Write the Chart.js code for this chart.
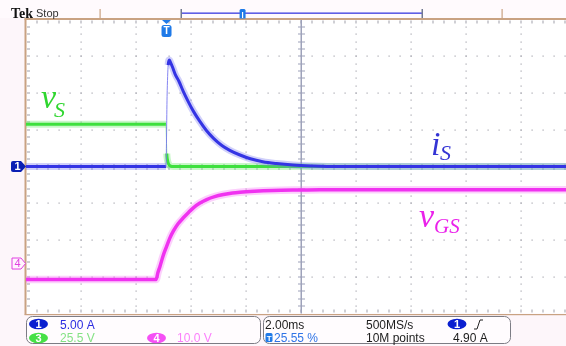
<!DOCTYPE html>
<html>
<head>
<meta charset="utf-8">
<script src="https://cdn.jsdelivr.net/npm/chart.js@4/dist/chart.umd.min.js"></script>
<style>
  html, body { margin: 0; padding: 0; overflow: hidden; width: 566px; height: 346px; background: #fdf6fa; }
  canvas { display: block; }
</style>
</head>
<body>
<canvas id="scope" width="576" height="346"></canvas>
<script>
// Acquisition settings (readout panel)
const timePerDiv = 2;        // ms/div
const triggerPct = 25.55;    // trigger position in the record, %
const ch1PerDiv = 5;         // A/div  (i_S)
const ch3PerDiv = 25.5;      // V/div  (v_S)
const ch4PerDiv = 10;        // V/div  (v_GS)
const ch4Offset = -2.64;     // div, ground position of channel 4

// Readout strings
const readoutCh = ['5.00 A', '25.5 V', '10.0 V'];
const readoutTime = ['2.00ms', '25.55 %'];
const readoutAcq = ['500MS/s', '10M points'];
const readoutTrig = ['4.90 A'];

// Trace names
const traceNames = [['i', 'S'], ['v', 'S'], ['v', 'GS']];

// Channel 1: switch current i_S (time in ms from trigger, value in A)
const timeIS = [-5.11, -0.02, 0.02, 0.06, 0.10, 0.14, 0.22, 0.32, 0.45, 0.60, 0.78, 0.98, 1.20, 1.45, 1.72, 2.00, 2.30, 2.65, 3.05, 3.50, 4.00, 4.60, 5.30, 6.20, 14.89];
const valIS  = [0, 0, 9.5, 13.8, 14.5, 14.2, 13.5, 12.5, 11.6, 10.3, 8.9, 7.5, 6.2, 4.9, 3.8, 2.9, 2.2, 1.6, 1.05, 0.65, 0.4, 0.2, 0.08, 0, 0];

// Channel 3: switch voltage v_S (V)
const timeVS = [-5.11, -0.02, 0.01, 0.03, 0.06, 0.10, 0.16, 0.25, 14.89];
const valVS  = [29.3, 29.3, 9.0, 5.0, 2.5, 1.0, 0.2, 0.0, 0.0];

// Channel 4: gate voltage v_GS (V)
const timeVGS = [-5.11, -0.38, -0.31, -0.236, -0.12, 0.007, 0.12, 0.247, 0.42, 0.611, 0.80, 0.975, 1.20, 1.46, 1.75, 2.07, 2.40, 2.67, 3.20, 3.87, 4.70, 5.58, 14.89];
const valVGS  = [-4.35, -4.35, -2.4, -0.73, 2.2, 4.71, 6.9, 8.79, 10.8, 12.44, 13.9, 15.16, 16.4, 17.41, 18.2, 18.78, 19.2, 19.4, 19.65, 19.86, 20.0, 20.1, 20.1];

const tLeft = -triggerPct / 100 * 10 * timePerDiv;
const tRight = tLeft + 10 * timePerDiv;

const pts = (ts, vs) => ts.map((t, i) => ({ x: t, y: vs[i] }));

// fast edges are drawn as a thin faint line, like a scope's sparse samples
const steep = ctx => {
  const dx = Math.abs(ctx.p1.x - ctx.p0.x), dy = Math.abs(ctx.p1.y - ctx.p0.y);
  return dy > 8 && dy > 6 * dx;
};

function trace(data, yAxisID, core, halo, width, order) {
  return [
    {
      data, yAxisID, order,
      borderColor: core, borderWidth: width,
      cubicInterpolationMode: 'monotone', pointRadius: 0,
      segment: {
        borderColor: c => steep(c) ? halo.replace(/[\d.]+\)$/, '0.9)') : undefined,
        borderWidth: c => steep(c) ? 1 : undefined
      }
    },
    {
      data, yAxisID, order: order + 0.5,
      borderColor: halo, borderWidth: width + 4,
      cubicInterpolationMode: 'monotone', pointRadius: 0,
      segment: {
        borderColor: c => steep(c) ? 'rgba(0,0,0,0)' : undefined
      }
    }
  ];
}

function roundRect(ctx, x, y, w, h, r) {
  ctx.beginPath();
  ctx.moveTo(x + r, y);
  ctx.arcTo(x + w, y, x + w, y + h, r);
  ctx.arcTo(x + w, y + h, x, y + h, r);
  ctx.arcTo(x, y + h, x, y, r);
  ctx.arcTo(x, y, x + w, y, r);
  ctx.closePath();
}

function badge(ctx, cx, cy, fill, txt, txtColor) {
  ctx.beginPath();
  ctx.ellipse(cx, cy, 9.5, 5.3, 0, 0, Math.PI * 2);
  ctx.fillStyle = fill;
  ctx.fill();
  ctx.fillStyle = txtColor || '#ffffff';
  ctx.font = 'bold 11px "Liberation Sans"';
  ctx.textAlign = 'center';
  ctx.textBaseline = 'middle';
  ctx.fillText(txt, cx, cy + 0.5);
  ctx.textAlign = 'left';
  ctx.textBaseline = 'alphabetic';
}

const scopeFrame = {
  id: 'scopeFrame',
  beforeDraw(chart) {
    const { ctx, chartArea: a, scales } = chart;
    const x = scales.x, y = scales.yI;
    const H = a.bottom - a.top;
    ctx.save();
    ctx.fillStyle = '#fdf6fa';
    ctx.fillRect(0, 0, chart.width, chart.height);
    ctx.fillStyle = '#ffffff';
    ctx.fillRect(a.left, a.top, a.right - a.left, H);

    const divW = x.getPixelForValue(tLeft + timePerDiv) - x.getPixelForValue(tLeft);
    // dotted graticule
    ctx.fillStyle = '#a6a6ae';
    for (let k = 1; k < 10; k++) {
      if (k === 5) continue;
      const px = Math.round(x.getPixelForValue(tLeft + k * timePerDiv));
      for (let j = 1; j < 40; j++) {
        const py = Math.round(a.top + j * H / 40);
        ctx.fillRect(px - 0.5, py - 0.5, 1.2, 1.2);
      }
    }
    for (let k = 1; k < 8; k++) {
      if (k === 4) continue;
      const py = Math.round(y.getPixelForValue(-4 * ch1PerDiv + k * ch1PerDiv));
      for (let j = 1; j < 50; j++) {
        const px = Math.round(a.left + j * divW / 5);
        ctx.fillRect(px - 0.5, py - 0.5, 1.2, 1.2);
      }
    }
    // edge ticks
    ctx.fillStyle = '#a0a0aa';
    for (let j = 1; j < 50; j++) {
      const px = Math.round(a.left + j * divW / 5);
      ctx.fillRect(px - 0.5, a.top + 1, 1, 3);
      ctx.fillRect(px - 0.5, a.bottom - 4, 1, 3);
    }
    for (let j = 1; j < 40; j++) {
      const py = Math.round(a.top + j * H / 40);
      ctx.fillRect(a.left + 1, py - 0.5, 3, 1);
    }
    // centre crosshair with minor ticks
    const cx = Math.round(x.getPixelForValue(tLeft + 5 * timePerDiv));
    const cy = y.getPixelForValue(0);
    ctx.fillStyle = '#9ea2ba';
    ctx.fillRect(cx - 0.5, a.top, 1.5, H);
    ctx.fillRect(a.left, Math.round(cy) - 0.5, a.right - a.left, 1);
    for (let j = 1; j < 40; j++) {
      const py = Math.round(a.top + j * H / 40);
      ctx.fillRect(cx - 3, py - 0.5, 7, 1);
    }
    for (let j = 1; j < 50; j++) {
      const px = Math.round(a.left + j * divW / 5);
      ctx.fillRect(px - 0.5, Math.round(cy) - 3, 1, 6);
    }
    // frame
    ctx.fillStyle = '#c9a282';
    ctx.fillRect(a.left - 1.5, a.top - 1, 2, H + 2);
    ctx.fillRect(a.left - 1.5, a.top - 1.5, a.right - a.left + 2, 2);
    ctx.fillRect(a.left - 1.5, a.bottom + 0.5, a.right - a.left + 2, 1.2);
    ctx.restore();
  },
  afterDatasetsDraw(chart) {
    const { ctx, chartArea: a, scales } = chart;
    const x = scales.x;
    ctx.save();

    // ---- trace names
    const serif = '"Liberation Serif", "DejaVu Serif", serif';
    const name = (base, sub, bx, by, sx, sy, color, bs, ss) => {
      ctx.fillStyle = color;
      ctx.font = 'italic ' + bs + 'px ' + serif;
      ctx.fillText(base, bx, by);
      ctx.font = 'italic ' + ss + 'px ' + serif;
      ctx.fillText(sub, sx, sy);
    };
    name(traceNames[1][0], traceNames[1][1], 41, 108, 54, 117, '#2fd62f', 34, 22);
    name(traceNames[0][0], traceNames[0][1], 431, 155, 440, 160, '#3434d4', 34, 22);
    name(traceNames[2][0], traceNames[2][1], 419, 227, 434, 233, '#ea22ea', 34, 21);

    // ---- channel ground markers
    const y1 = scales.yI.getPixelForValue(0);
    ctx.beginPath();
    ctx.moveTo(13, y1 - 5.5); ctx.lineTo(21, y1 - 5.5); ctx.lineTo(26, y1);
    ctx.lineTo(21, y1 + 5.5); ctx.lineTo(13, y1 + 5.5);
    ctx.quadraticCurveTo(11, y1 + 5.5, 11, y1 + 3.5); ctx.lineTo(11, y1 - 3.5);
    ctx.quadraticCurveTo(11, y1 - 5.5, 13, y1 - 5.5);
    ctx.fillStyle = '#0a1fb4';
    ctx.fill();
    ctx.fillStyle = '#ffffff';
    ctx.font = 'bold 11px "Liberation Sans"';
    ctx.textAlign = 'center'; ctx.textBaseline = 'middle';
    ctx.fillText('1', 17.5, y1 + 0.5);

    const y4 = scales.yVgs.getPixelForValue(0);
    ctx.beginPath();
    ctx.moveTo(12, y4 - 5.5); ctx.lineTo(21, y4 - 5.5); ctx.lineTo(25.5, y4);
    ctx.lineTo(21, y4 + 5.5); ctx.lineTo(12, y4 + 5.5); ctx.closePath();
    ctx.fillStyle = '#fff4fe'; ctx.fill();
    ctx.strokeStyle = '#e040e0'; ctx.lineWidth = 1; ctx.stroke();
    ctx.fillStyle = '#e040e0';
    ctx.font = '11px "Liberation Sans"';
    ctx.fillText('4', 17.5, y4 + 0.5);

    // ---- trigger position marker
    const tx = x.getPixelForValue(0);
    ctx.fillStyle = '#1f7ae8';
    ctx.beginPath();
    ctx.moveTo(tx - 4.5, a.top + 0.5); ctx.lineTo(tx + 4.5, a.top + 0.5); ctx.lineTo(tx, a.top + 4.5);
    ctx.closePath(); ctx.fill();
    roundRect(ctx, tx - 5, a.top + 5.5, 10, 12, 2.5);
    ctx.fill();
    ctx.fillStyle = '#ffffff';
    ctx.font = 'bold 10px "Liberation Sans"';
    ctx.fillText('T', tx, a.top + 12);
    ctx.textAlign = 'left'; ctx.textBaseline = 'alphabetic';

    // ---- top status bar
    ctx.fillStyle = '#fffafd';
    ctx.fillRect(0, 0, 566, a.top - 1.5);
    ctx.fillStyle = '#111111';
    ctx.font = 'bold 14px "Liberation Serif"';
    ctx.fillText('Tek', 11, 18);
    ctx.fillStyle = '#333333';
    ctx.font = '11px "Liberation Sans"';
    ctx.fillText('Stop', 36, 17);
    ctx.fillStyle = '#c9a282';
    ctx.fillRect(99.5, 9, 1.2, a.top - 10);
    ctx.fillRect(501.5, 9, 1.2, a.top - 10);
    // record view bar
    const rL = 181, rR = 422;
    ctx.fillStyle = '#3a3ae0';
    ctx.fillRect(rL, 12.5, rR - rL, 1.3);
    ctx.fillStyle = '#707890';
    ctx.fillRect(rL - 0.5, 9, 1.5, 9);
    ctx.fillRect(rR - 0.5, 9, 1.5, 9);
    const rT = rL + triggerPct / 100 * (rR - rL);
    ctx.fillStyle = '#1f7ae8';
    ctx.fillRect(rT - 3, 10, 6, 8.5);
    ctx.beginPath();
    ctx.moveTo(rT - 3, 9); ctx.lineTo(rT + 3, 9); ctx.lineTo(rT, 11.5); ctx.closePath(); ctx.fill();
    ctx.fillStyle = '#ffffff';
    ctx.fillRect(rT - 0.6, 12, 1.2, 6);

    // ---- readout panels
    const py0 = 316.5, ph = 27;
    ctx.lineWidth = 1;
    ctx.strokeStyle = '#7c7c84';
    ctx.fillStyle = '#fffcfe';
    roundRect(ctx, 26.5, py0, 234, ph, 6); ctx.fill(); ctx.stroke();
    roundRect(ctx, 263.5, py0, 247, ph, 6); ctx.fill(); ctx.stroke();

    const r1 = 328.8, r2 = 341.8;
    badge(ctx, 38.5, 324, '#0a1fd0', '1');
    badge(ctx, 38.5, 338, '#46e046', '3');
    badge(ctx, 156.5, 338, '#f550f5', '4');
    ctx.font = '12px "Liberation Sans"';
    ctx.fillStyle = '#2c2ce0'; ctx.fillText(readoutCh[0], 60, r1);
    ctx.fillStyle = '#84e284'; ctx.fillText(readoutCh[1], 60, r2);
    ctx.fillStyle = '#fb80fb'; ctx.fillText(readoutCh[2], 177, r2);

    ctx.fillStyle = '#1c1c1c';
    ctx.fillText(readoutTime[0], 265, r1);
    ctx.fillText(readoutAcq[0], 366, r1);
    ctx.fillText(readoutAcq[1], 366, r2);
    ctx.fillText(readoutTrig[0], 453, r2);
    ctx.fillStyle = '#1f7ae8';
    roundRect(ctx, 265.5, 333, 7, 9, 1.5); ctx.fill();
    ctx.fillStyle = '#ffffff';
    ctx.font = 'bold 8px "Liberation Sans"';
    ctx.fillText('T', 266.8, 340.5);
    ctx.font = '12px "Liberation Sans"';
    ctx.fillStyle = '#2f74e6';
    ctx.fillText(readoutTime[1], 274, r2);
    badge(ctx, 457, 324, '#0a1fd0', '1');
    // rising-edge trigger symbol
    ctx.strokeStyle = '#222222';
    ctx.lineWidth = 1;
    ctx.beginPath();
    ctx.moveTo(474, 329); ctx.lineTo(477, 329); ctx.lineTo(480, 320); ctx.lineTo(483, 320);
    ctx.stroke();
    ctx.restore();
  }
};

new Chart(document.getElementById('scope'), {
  type: 'line',
  data: {
    datasets: [
      ...trace(pts(timeIS, valIS), 'yI', '#3434e4', 'rgba(120,120,240,0.35)', 3, 1),
      ...trace(pts(timeVS, valVS), 'yVs', '#3ee03e', 'rgba(120,235,120,0.4)', 3, 3),
      ...trace(pts(timeVGS, valVGS), 'yVgs', '#f032f0', 'rgba(245,120,245,0.35)', 3.5, 5)
    ]
  },
  options: {
    responsive: false,
    animation: false,
    events: [],
    layout: { padding: { left: 26, right: 0, top: 19.5, bottom: 32.5 } },
    plugins: { legend: { display: false }, tooltip: { enabled: false } },
    scales: {
      x: { type: 'linear', min: tLeft, max: tRight, display: false },
      yI: { type: 'linear', min: -4 * ch1PerDiv, max: 4 * ch1PerDiv, display: false },
      yVs: { type: 'linear', min: -4 * ch3PerDiv, max: 4 * ch3PerDiv, display: false },
      yVgs: { type: 'linear', min: (-4 - ch4Offset) * ch4PerDiv, max: (4 - ch4Offset) * ch4PerDiv, display: false }
    }
  },
  plugins: [scopeFrame]
});
</script>
</body>
</html>
